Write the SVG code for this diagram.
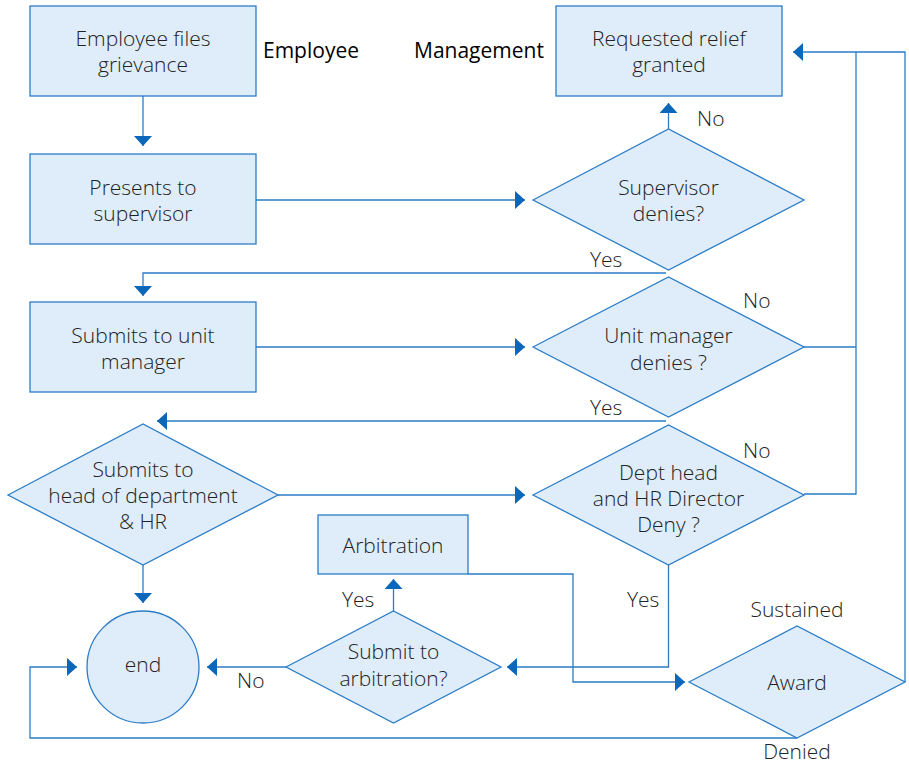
<svg xmlns="http://www.w3.org/2000/svg" width="909" height="765" viewBox="0 0 909 765">
  <defs>
    <marker id="arrow" markerUnits="userSpaceOnUse" markerWidth="10" markerHeight="18" refX="10" refY="9" orient="auto">
      <path d="M0,0 L10,9 L0,18 z" fill="#0a67b9"/>
    </marker>
    <style>
      .shape { fill: #deedf9; stroke: #2b7cc6; stroke-width: 1.3; }
      .link { fill: none; stroke: #2b7cc6; stroke-width: 1.3; }
      .arr { marker-end: url(#arrow); }
      text { font-family: "Open Sans", "Noto Sans", sans-serif; font-size: 21px; font-weight: 300; fill: #222; }
      .c { text-anchor: middle; }
      .lane { fill: #000; font-weight: 400; }
    </style>
  </defs>
  <rect width="909" height="765" fill="#fff"/>

  <!-- connectors -->
  <g id="connectors">
    <path class="link arr" d="M143,96 V146"/>
    <path class="link arr" d="M256,200 H525"/>
    <path class="link arr" d="M668.5,129 V103"/>
    <path class="link arr" d="M666,273 H143 V296"/>
    <path class="link arr" d="M256,347 H525"/>
    <path class="link arr" d="M666,421 H157"/>
    <path class="link arr" d="M278,495 H525"/>
    <path class="link" d="M804,347 H856"/>
    <path class="link" d="M804,494 H856 V52"/>
    <path class="link arr" d="M905,682 V52 H793"/>
    <path class="link arr" d="M143,565 V603"/>
    <path class="link arr" d="M668.5,565 V667 H507"/>
    <path class="link arr" d="M393.5,611 V579"/>
    <path class="link arr" d="M286,667 H207"/>
    <path class="link arr" d="M468,574 H573 V682 H685"/>
    <path class="link arr" d="M797,738 H30 V667 H77"/>
  </g>

  <!-- nodes -->
  <g id="employee-files">
    <rect class="shape" x="30" y="6" width="226" height="90"/>
    <text class="c" x="143" y="46">Employee files</text>
    <text class="c" x="143" y="72">grievance</text>
  </g>
  <g id="presents-supervisor">
    <rect class="shape" x="30" y="154" width="226" height="90"/>
    <text class="c" x="143" y="195">Presents to</text>
    <text class="c" x="143" y="221">supervisor</text>
  </g>
  <g id="submits-unit-manager">
    <rect class="shape" x="30" y="302" width="226" height="90"/>
    <text class="c" x="143" y="343">Submits to unit</text>
    <text class="c" x="143" y="369">manager</text>
  </g>
  <g id="submits-head">
    <polygon class="shape" points="8,495 143,424 278,495 143,565"/>
    <text class="c" x="143" y="477">Submits to</text>
    <text class="c" x="143" y="503">head of department</text>
    <text class="c" x="143" y="529">&amp; HR</text>
  </g>
  <g id="end">
    <circle class="shape" cx="143" cy="667" r="56"/>
    <text class="c" x="143" y="672">end</text>
  </g>
  <g id="relief-granted">
    <rect class="shape" x="556" y="6" width="226" height="90"/>
    <text class="c" x="669" y="46">Requested relief</text>
    <text class="c" x="669" y="72">granted</text>
  </g>
  <g id="supervisor-denies">
    <polygon class="shape" points="533,200 668.5,129 804,200 668.5,270"/>
    <text class="c" x="668.5" y="195">Supervisor</text>
    <text class="c" x="668.5" y="221">denies?</text>
  </g>
  <g id="unit-manager-denies">
    <polygon class="shape" points="533,347 668.5,277 804,347 668.5,417"/>
    <text class="c" x="668.5" y="343">Unit manager</text>
    <text class="c" x="668.5" y="370">denies ?</text>
  </g>
  <g id="dept-head-denies">
    <polygon class="shape" points="533,495 668.5,425 804,495 668.5,565"/>
    <text class="c" x="668.5" y="480">Dept head</text>
    <text class="c" x="668.5" y="506">and HR Director</text>
    <text class="c" x="668.5" y="532">Deny ?</text>
  </g>
  <g id="arbitration">
    <rect class="shape" x="318" y="515" width="150" height="59"/>
    <text class="c" x="393" y="553">Arbitration</text>
  </g>
  <g id="submit-arbitration">
    <polygon class="shape" points="286,667 393.5,611 501,667 393.5,723"/>
    <text class="c" x="393.5" y="659">Submit to</text>
    <text class="c" x="393.5" y="686">arbitration?</text>
  </g>
  <g id="award">
    <polygon class="shape" points="689,682 797,626 905,682 797,738"/>
    <text class="c" x="797" y="690">Award</text>
  </g>

  <!-- lane and branch labels -->
  <g id="labels">
    <text class="lane" x="263" y="58">Employee</text>
    <text class="lane" x="414" y="58">Management</text>
    <text x="697" y="126">No</text>
    <text x="590" y="267">Yes</text>
    <text x="743" y="308">No</text>
    <text x="590" y="415">Yes</text>
    <text x="743" y="458">No</text>
    <text x="342" y="607">Yes</text>
    <text x="627" y="607">Yes</text>
    <text x="237" y="688">No</text>
    <text class="c" x="797" y="617">Sustained</text>
    <text class="c" x="797" y="759">Denied</text>
  </g>
</svg>
